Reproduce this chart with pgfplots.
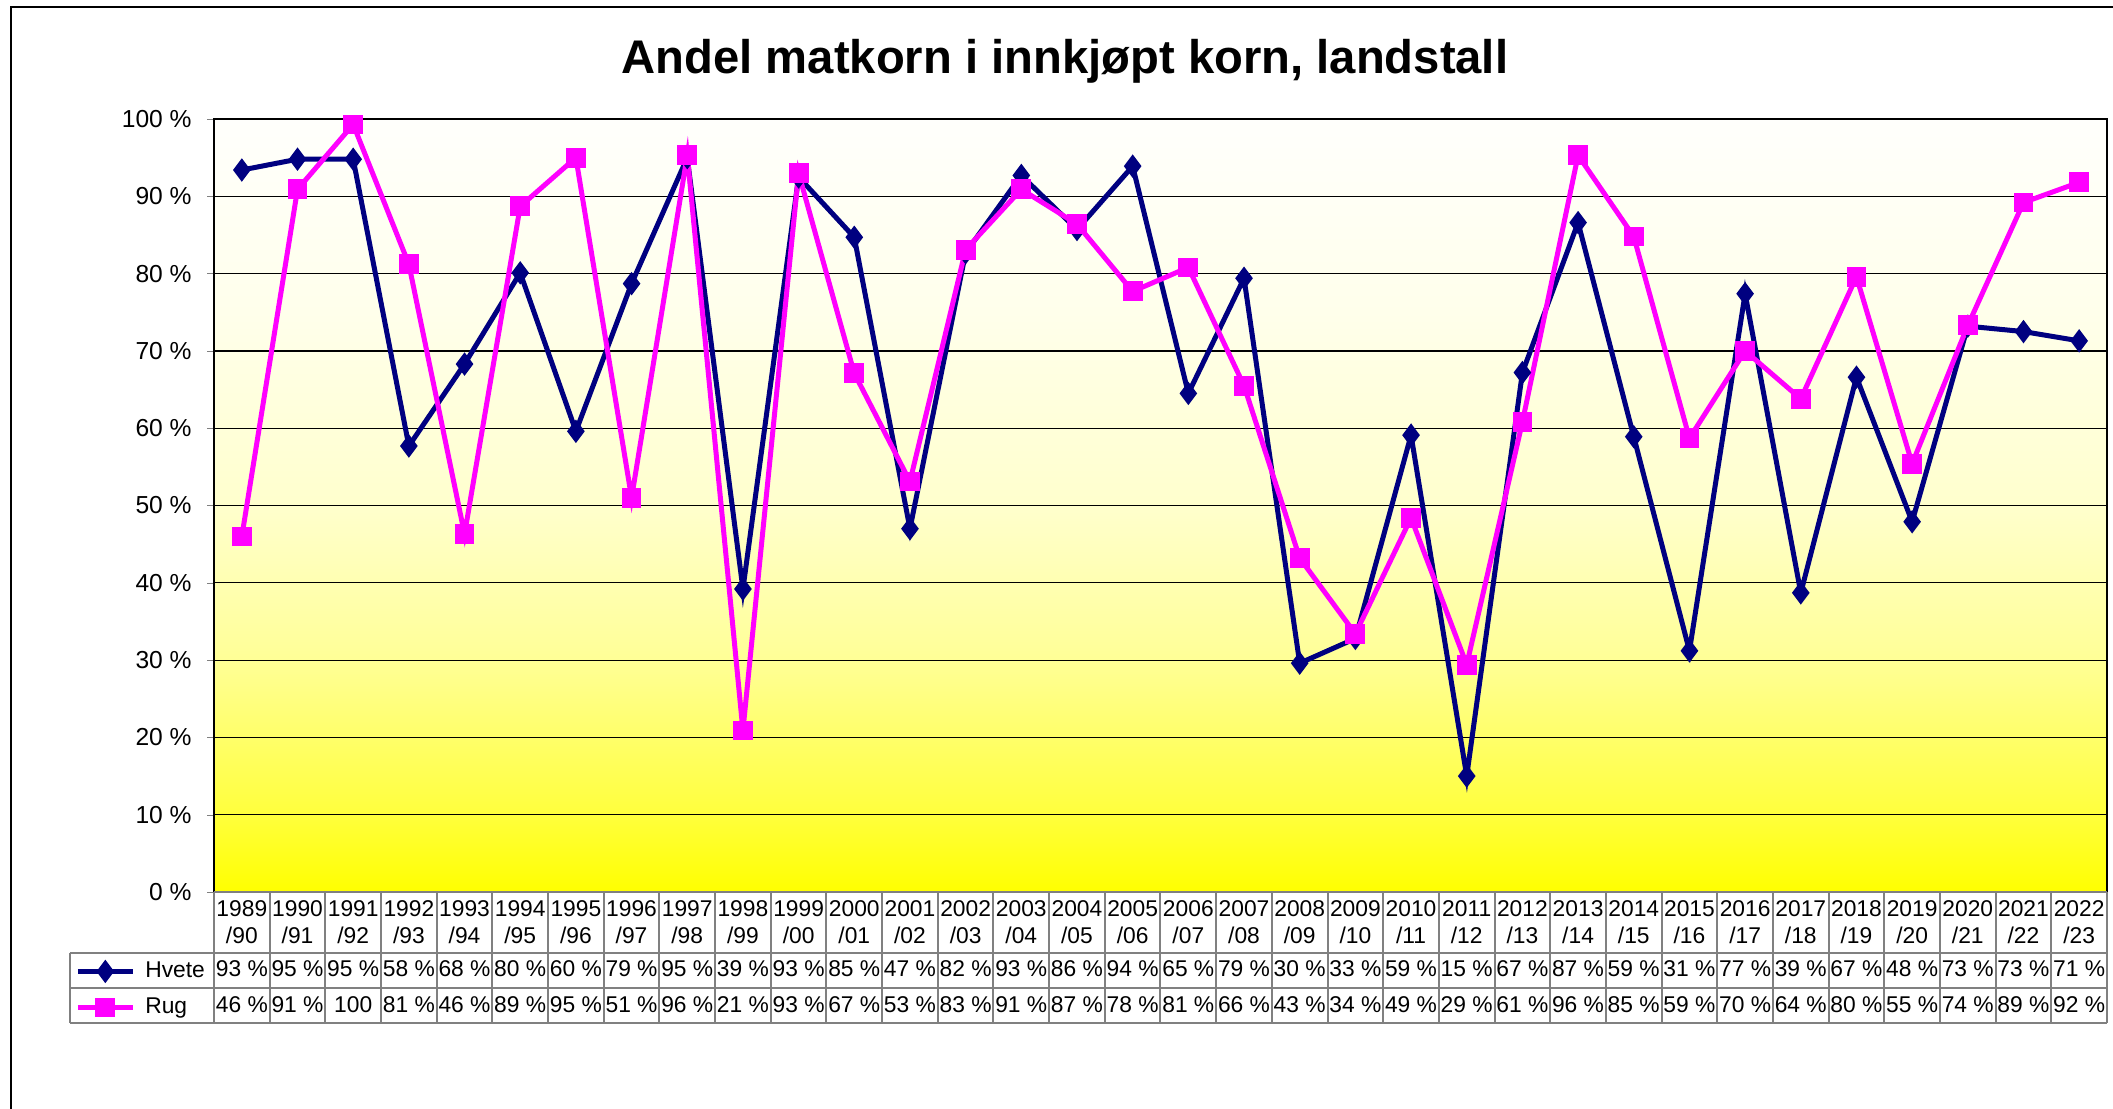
\documentclass[border=0pt]{standalone}
\usepackage{pgfplots}
\pgfplotsset{compat=1.18}
\usepackage{fontspec}
\setmainfont{Liberation Sans}
\definecolor{hvete}{RGB}{0,0,128}
\definecolor{rug}{RGB}{255,0,255}
\definecolor{tgrey}{RGB}{128,128,128}
\definecolor{yA}{RGB}{255,255,0}
\definecolor{yB}{RGB}{255,255,60}
\definecolor{yC}{RGB}{255,255,150}
\definecolor{yD}{RGB}{255,255,205}
\definecolor{yE}{RGB}{255,255,235}
\definecolor{yF}{RGB}{255,255,252}
\pgfdeclareverticalshading{bgshade}{100bp}{color(0bp)=(yA); color(25bp)=(yA); color(30bp)=(yB); color(40bp)=(yC); color(50bp)=(yD); color(62.5bp)=(yE); color(75bp)=(yF); color(100bp)=(yF)}
\newcommand\tabfont{\fontsize{11.4bp}{13.5bp}\selectfont}
\begin{document}
\begin{tikzpicture}
\useasboundingbox (0,0) rectangle (1056.5bp,-554.5bp);
\begin{axis}[
  at={(107bp,-446bp)}, anchor=south west, scale only axis,
  width=946.5bp, height=386.5bp,
  xmin=-0.5, xmax=33.5, ymin=0, ymax=100,
  clip=false,
  axis background/.style={shading=bgshade},
  axis line style={line width=1bp, black},
  ytick={0,10,20,30,40,50,60,70,80,90,100},
  yticklabels={0 \%,10 \%,20 \%,30 \%,40 \%,50 \%,60 \%,70 \%,80 \%,90 \%,100 \%},
  ytick pos=left, ytick align=outside, major tick length=3.5bp,
  yticklabel style={font=\fontsize{12.3bp}{14bp}\selectfont, inner sep=0pt, xshift=-7.5bp},
  ymajorgrids, major grid style={black, line width=0.6bp},
  xtick={0,...,33},
  xticklabels={1989\\/90,1990\\/91,1991\\/92,1992\\/93,1993\\/94,1994\\/95,1995\\/96,1996\\/97,1997\\/98,1998\\/99,1999\\/00,2000\\/01,2001\\/02,2002\\/03,2003\\/04,2004\\/05,2005\\/06,2006\\/07,2007\\/08,2008\\/09,2009\\/10,2010\\/11,2011\\/12,2012\\/13,2013\\/14,2014\\/15,2015\\/16,2016\\/17,2017\\/18,2018\\/19,2019\\/20,2020\\/21,2021\\/22,2022\\/23},
  xticklabel style={font=\tabfont, align=center, anchor=north, inner sep=0pt, yshift=-4.3bp},
  xtick style={draw=none},
  legend image code/.code={\draw[mark repeat=2,mark phase=2,#1] plot coordinates {(0bp,0bp) (13.75bp,0bp) (27.5bp,0bp)};},
  legend style={at={(axis description cs:-0.07347,-0.088)}, anchor=north west, draw=none, fill=none,
     inner sep=0pt, row sep=7bp, column sep=5bp, font=\tabfont,
     nodes={inner sep=0pt, text height=8.5bp, text depth=2.5bp}},
  legend cell align=left,
]
\addplot[hvete, line width=2.5bp, mark=diamond*, mark size=3.8bp, mark options={solid}] coordinates {
(0,93.4) (1,94.8) (2,94.8) (3,57.7) (4,68.3) (5,80.1) (6,59.6) (7,78.7) (8,95.0) (9,39.2)
(10,92.5) (11,84.7) (12,47.0) (13,82.7) (14,92.7) (15,85.7) (16,93.9) (17,64.5) (18,79.4) (19,29.6)
(20,32.8) (21,59.1) (22,15.0) (23,67.2) (24,86.6) (25,58.9) (26,31.2) (27,77.4) (28,38.7) (29,66.6)
(30,47.9) (31,73.2) (32,72.5) (33,71.3)};
\addlegendentry{Hvete}
\addplot[rug, line width=2.5bp, mark=square*, mark size=3.7bp, mark options={solid}] coordinates {
(0,46.0) (1,90.9) (2,99.3) (3,81.2) (4,46.3) (5,88.7) (6,95.0) (7,51.0) (8,95.3) (9,20.9)
(10,93.0) (11,67.1) (12,53.1) (13,83.1) (14,90.9) (15,86.4) (16,77.7) (17,80.8) (18,65.5) (19,43.2)
(20,33.4) (21,48.4) (22,29.4) (23,60.8) (24,95.3) (25,84.8) (26,58.7) (27,70.0) (28,63.8) (29,79.6)
(30,55.4) (31,73.3) (32,89.2) (33,91.8)};
\addlegendentry{Rug}
\end{axis}
\begin{scope}[x=0.5bp, y=-0.5bp]
  % outer chart border
  \draw[black, line width=1bp] (11,1109) -- (11,7) -- (2113,7);
  % title
  \node[anchor=base, inner sep=0pt, font=\fontsize{23.6bp}{28bp}\selectfont\bfseries] at (1065,74) {Andel matkorn i innkjøpt korn, landstall};
  % data table grid
  \foreach \i in {0,...,34} {\draw[tgrey, line width=1bp] ({214+\i*55.676},892) -- ({214+\i*55.676},1023);}
  \draw[tgrey, line width=1bp] (214,892) -- (2107,892);
  \draw[tgrey, line width=1bp] (70,953) -- (2107,953);
  \draw[tgrey, line width=1bp] (70,988) -- (2107,988);
  \draw[tgrey, line width=1.2bp] (70,1023) -- (2107,1023);
  \draw[tgrey, line width=1.2bp] (70,953) -- (70,1023);
  \foreach \v [count=\i from 0] in {93 \%,95 \%,95 \%,58 \%,68 \%,80 \%,60 \%,79 \%,95 \%,39 \%,93 \%,85 \%,47 \%,82 \%,93 \%,86 \%,94 \%,65 \%,79 \%,30 \%,33 \%,59 \%,15 \%,67 \%,87 \%,59 \%,31 \%,77 \%,39 \%,67 \%,48 \%,73 \%,73 \%,71 \%}
    {\node[anchor=base, inner sep=0pt, font=\tabfont] at ({214+(\i+0.5)*55.676},977) {\v};}
  \foreach \v [count=\i from 0] in {46 \%,91 \%,100,81 \%,46 \%,89 \%,95 \%,51 \%,96 \%,21 \%,93 \%,67 \%,53 \%,83 \%,91 \%,87 \%,78 \%,81 \%,66 \%,43 \%,34 \%,49 \%,29 \%,61 \%,96 \%,85 \%,59 \%,70 \%,64 \%,80 \%,55 \%,74 \%,89 \%,92 \%}
    {\node[anchor=base, inner sep=0pt, font=\tabfont] at ({214+(\i+0.5)*55.676},1013) {\v};}
\end{scope}
\end{tikzpicture}
\end{document}
